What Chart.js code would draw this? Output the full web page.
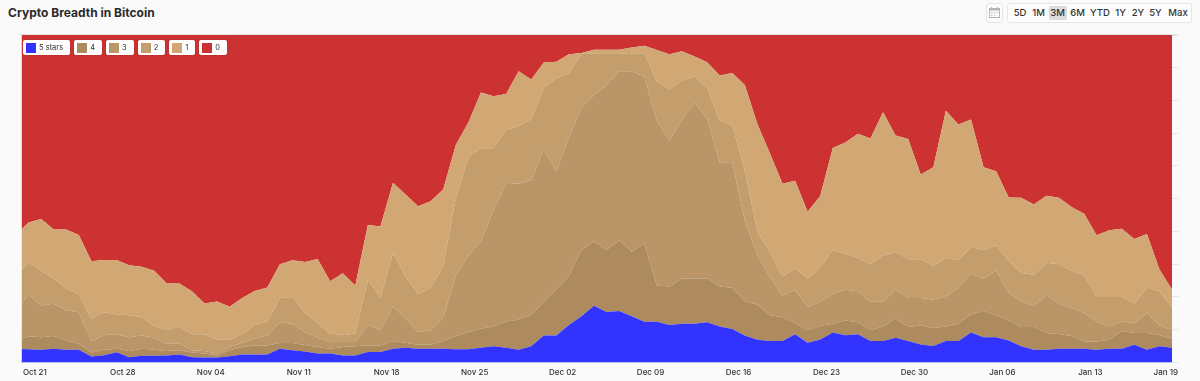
<!DOCTYPE html>
<html>
<head>
<meta charset="utf-8">
<script src="https://cdn.jsdelivr.net/npm/chart.js@4.4.1/dist/chart.umd.min.js"></script>
<style>
  html, body { margin: 0; padding: 0; }
  body { width: 1200px; height: 381px; background: #fafafa; position: relative; overflow: hidden; font-family: Inter, "Noto Sans", sans-serif; }
  #title { position: absolute; left: 8px; top: 5px; font-size: 12px; font-weight: 700; color: #2b2b2b; letter-spacing: 0; }
  #frame { position: absolute; left: 18px; top: 34px; width: 1159px; height: 1px; background: #e2e2e2; }
  #wrap { position: absolute; left: 18px; top: 35px; width: 1165px; height: 349px; }
  #legend { position: absolute; left: 23px; top: 40px; display: flex; gap: 4px; }
  .li { display: flex; align-items: center; height: 15px; box-sizing: border-box; background: #fff; border-radius: 2px; padding: 0 7px 0 3px; font-size: 7.5px; color: #333; box-shadow: 0 0 0 0.5px rgba(0,0,0,0.12); }
  .sw { width: 10px; height: 10px; margin-right: 3px; }
  #cal { position: absolute; left: 986px; top: 3px; width: 17px; height: 20px; box-sizing: border-box; border: 1px solid #e4e4e4; border-radius: 3px; background: #fcfcfc; }
  #btns { position: absolute; left: 1007px; top: 3px; width: 185px; height: 20px; box-sizing: border-box; border: 1px solid #e6e6e6; border-radius: 3px; background: #fdfdfd; }
  .b { position: absolute; top: 2px; height: 14px; line-height: 14px; font-size: 9.5px; font-weight: 500; color: #333; text-align: center; }
  .b.on { background: #dcdcdc; border-radius: 2px; }
</style>
</head>
<body>
<div id="title">Crypto Breadth in Bitcoin</div>
<div id="cal">
  <svg width="15" height="18" viewBox="0 0 15 18">
    <rect x="2.5" y="4.5" width="10" height="9" fill="none" stroke="#b5b5b5" stroke-width="1"/>
    <rect x="2.5" y="4.5" width="10" height="2" fill="#b5b5b5"/>
    <rect x="4" y="3" width="1" height="2.5" fill="#b5b5b5"/>
    <rect x="10" y="3" width="1" height="2.5" fill="#b5b5b5"/>
    <rect x="4" y="8" width="1.5" height="1.2" fill="#c4c4c4"/>
    <rect x="6.8" y="8" width="1.5" height="1.2" fill="#c4c4c4"/>
    <rect x="9.6" y="8" width="1.5" height="1.2" fill="#c4c4c4"/>
    <rect x="4" y="10.6" width="1.5" height="1.2" fill="#c4c4c4"/>
    <rect x="6.8" y="10.6" width="1.5" height="1.2" fill="#c4c4c4"/>
  </svg>
</div>
<div id="btns"></div>
<div id="frame"></div>
<div id="wrap"><canvas id="c"></canvas></div>
<div id="legend"></div>
<script>
// ---- categories (daily, first point is partly outside the visible range) ----
const dates = (function () {
  const out = [];
  const d = new Date(2024, 9, 19);
  const end = new Date(2025, 0, 19);
  const m = ["Jan","Feb","Mar","Apr","May","Jun","Jul","Aug","Sep","Oct","Nov","Dec"];
  while (d <= end) {
    out.push(m[d.getMonth()] + " " + String(d.getDate()).padStart(2, "0"));
    d.setDate(d.getDate() + 1);
  }
  return out;
})();

// ---- x tick labels ----
const tickLabels = ["Oct 21","Oct 28","Nov 04","Nov 11","Nov 18","Nov 25","Dec 02","Dec 09","Dec 16","Dec 23","Dec 30","Jan 06","Jan 13","Jan 19"];

// ---- series (% of assets by star rating) ----
const seriesNames = ["5 stars", "4", "3", "2", "1", "0"];
const stars5 = [4.2,4.0,3.9,4.2,3.9,3.9,1.8,2.2,3.1,1.6,2.0,2.0,2.1,2.4,1.6,1.5,1.5,1.9,2.4,2.4,2.4,4.2,3.7,3.3,2.7,2.7,2.1,2.1,3.2,3.2,4.2,4.5,4.2,4.2,4.2,4.0,4.0,4.5,4.9,4.5,3.9,4.9,8.2,8.2,11.4,14.1,17.3,15.4,15.7,14.1,12.4,12.4,11.4,11.8,11.8,12.3,11.0,10.2,8.2,6.9,6.5,6.5,8.6,6.0,7.0,9.1,8.3,8.6,6.5,6.5,7.5,6.5,5.5,5.0,6.5,6.5,9.1,7.7,7.7,6.7,4.9,3.9,3.9,4.2,4.2,4.2,3.9,4.2,4.2,5.4,3.9,4.9,4.5];
const stars4 = [2.3,4.0,3.8,3.9,2.8,1.8,1.2,1.7,1.1,1.9,2.2,1.9,1.4,1.3,1.4,1.2,0.6,1.8,2.3,2.8,2.8,1.7,2.2,2.0,2.0,1.5,2.6,2.8,2.0,2.0,2.3,1.5,1.2,1.2,2.3,4.1,5.3,5.8,6.1,8.0,9.1,9.7,10.0,14.1,15.0,20.2,19.7,18.9,21.6,19.7,23.9,11.1,11.8,13.8,13.8,13.3,12.2,12.6,10.3,10.8,7.9,7.3,3.4,3.8,4.1,2.7,4.5,3.7,3.3,4.5,5.9,4.3,5.8,5.5,4.5,5.3,5.5,8.0,6.7,6.1,5.9,6.9,5.1,4.5,3.9,2.2,2.5,2.7,5.4,3.6,5.1,3.4,2.7];
const stars3 = [9.3,12.7,9.7,9.8,9.2,9.6,3.5,4.4,4.4,4.2,4.0,3.6,2.2,2.0,0.7,0.8,0.6,1.0,1.3,2.0,3.0,6.4,5.9,4.0,2.8,2.0,1.5,1.3,6.4,4.6,10.6,7.5,3.9,4.4,7.2,18.5,23.3,26.8,35.5,42.4,41.6,41.1,46.9,36.1,42.3,43.6,44.7,50.4,51.6,55.1,51.0,50.3,44.5,48.7,53.8,48.9,37.9,38.3,24.9,15.0,11.7,6.6,10.2,7.1,7.4,9.2,9.4,9.4,8.7,7.5,8.8,8.9,8.4,8.7,9.2,11.0,12.5,9.9,13.7,8.5,7.9,6.5,11.5,9.2,8.6,8.7,6.1,4.1,2.9,3.0,6.1,3.0,2.6];
const stars2 = [10.6,9.8,10.5,7.7,6.6,5.5,6.8,7.0,6.1,6.7,5.7,3.6,4.1,5.3,4.9,5.1,4.2,2.2,2.6,4.2,4.2,7.4,8.2,5.8,4.5,2.6,2.1,2.6,13.7,9.9,16.3,12.7,11.5,12.9,15.8,23.5,30.1,28.3,18.9,16.0,17.6,18.6,18.9,28.3,19.6,16.3,12.7,9.7,5.5,5.2,7.1,11.9,15.7,11.7,7.9,9.5,12.7,11.4,15.3,7.2,7.6,5.8,6.4,8.7,10.5,13.3,11.0,10.3,11.5,14.2,11.5,11.8,11.8,10.2,11.8,8.4,8.2,8.7,7.7,9.7,8.6,9.5,9.9,12.1,11.2,11.5,7.5,9.0,7.5,5.9,7.7,10.4,6.9];
const stars1 = [12.5,12.2,15.9,15.0,18.1,18.1,17.6,16.0,16.6,15.3,15.3,16.9,14.3,13.1,13.1,9.4,11.7,10.1,11.1,10.4,10.5,10.3,11.2,15.6,19.6,16.0,18.9,14.7,16.7,21.8,21.5,25.1,26.9,26.5,23.4,16.3,10.6,17.0,15.9,11.1,16.7,12.1,7.6,5.1,5.8,0.3,1.1,1.1,1.1,2.1,2.3,9.7,10.7,9.0,6.1,7.7,13.8,15.9,26.0,32.9,30.1,28.4,26.9,20.4,21.8,31.2,34.0,37.8,38.4,43.7,35.6,36.7,25.9,30.2,44.9,41.5,38.9,25.3,22.6,19.4,23.0,21.4,20.5,20.3,19.6,18.8,18.8,20.4,20.8,19.8,16.4,6.7,5.5];
const stars0 = [61.1,57.3,56.2,59.4,59.4,61.1,69.1,68.7,68.7,70.3,70.8,72.0,75.9,75.9,78.3,82.0,81.4,83.0,80.3,78.2,77.1,70.0,68.8,69.3,68.4,75.2,72.8,76.5,58.0,58.5,45.1,48.7,52.3,50.8,47.1,33.6,26.7,17.6,18.7,18.0,11.1,13.6,8.4,8.2,5.9,5.5,4.5,4.5,4.5,3.8,3.3,4.6,5.9,5.0,6.6,8.3,12.4,11.6,15.3,27.2,36.2,45.4,44.5,54.0,49.2,34.5,32.8,30.2,31.6,23.6,30.7,31.8,42.6,40.4,23.1,27.3,25.8,40.4,41.6,49.6,49.7,51.8,49.1,49.7,52.5,54.6,61.2,59.6,59.2,62.3,60.8,71.6,77.8];

const seriesValues = [stars5, stars4, stars3, stars2, stars1, stars0];
const seriesColors = ["#3333ff", "#ae8b5e", "#ba9567", "#c49d6c", "#d1a873", "#cc3232"];

// x position of a point: days from the Oct 21 tick, points sit at mid-day
const dayOf = (i) => i - dates.indexOf("Oct 21") + 0.5;
const tickValue = (lab) => dates.indexOf(lab) - dates.indexOf("Oct 21");

const datasets = seriesValues.map((vals, s) => ({
  label: seriesNames[s],
  data: vals.map((v, i) => ({ x: dayOf(i), y: v })),
  backgroundColor: seriesColors[s],
  borderColor: seriesColors[s],
  borderWidth: 0,
  pointRadius: 0,
  pointHoverRadius: 0,
  tension: 0,
  fill: s === 0 ? "origin" : "-1"
}));

const chart = new Chart(document.getElementById("c"), {
  type: "line",
  data: { datasets },
  options: {
    responsive: true,
    maintainAspectRatio: false,
    animation: false,
    events: [],
    layout: { padding: { left: 0, right: 0, top: 0, bottom: 2 } },
    plugins: { legend: { display: false }, tooltip: { enabled: false }, title: { display: false } },
    scales: {
      x: {
        type: "linear",
        min: -1.06,
        max: 90.53,
        grid: { display: false, drawTicks: false },
        border: { display: true, color: "#ccd6eb", width: 1 },
        afterBuildTicks: (scale) => { scale.ticks = tickLabels.map(l => ({ value: tickValue(l) })); },
        ticks: {
          autoSkip: false,
          maxRotation: 0,
          padding: 5,
          color: "#333",
          font: { family: "Inter", size: 8, weight: 500 },
          callback: (v, i) => tickLabels[i]
        }
      },
      y: {
        position: "right",
        stacked: true,
        min: 0,
        max: 100,
        border: { display: false },
        grid: { color: "#e6e6e6", drawTicks: true, tickLength: 6 },
        ticks: { display: false, stepSize: 10 }
      }
    }
  }
});

// legend built from the chart's datasets
const lg = document.getElementById("legend");
chart.data.datasets.forEach(ds => {
  const it = document.createElement("div");
  it.className = "li";
  const sw = document.createElement("div");
  sw.className = "sw";
  sw.style.background = ds.backgroundColor;
  const tx = document.createElement("span");
  tx.textContent = ds.label;
  it.appendChild(sw); it.appendChild(tx);
  lg.appendChild(it);
});

// range buttons
const ranges = ["5D","1M","3M","6M","YTD","1Y","2Y","5Y","Max"];
const centers = [12, 30.5, 49.5, 69.5, 92, 112.5, 130, 147.5, 170];
const bw = [16, 16, 18, 16, 22, 14, 14, 14, 22];
const bb = document.getElementById("btns");
ranges.forEach((r, i) => {
  const s = document.createElement("span");
  s.className = "b" + (r === "3M" ? " on" : "");
  s.textContent = r;
  s.style.left = (centers[i] - bw[i] / 2) + "px";
  s.style.width = bw[i] + "px";
  bb.appendChild(s);
});
</script>
</body>
</html>
